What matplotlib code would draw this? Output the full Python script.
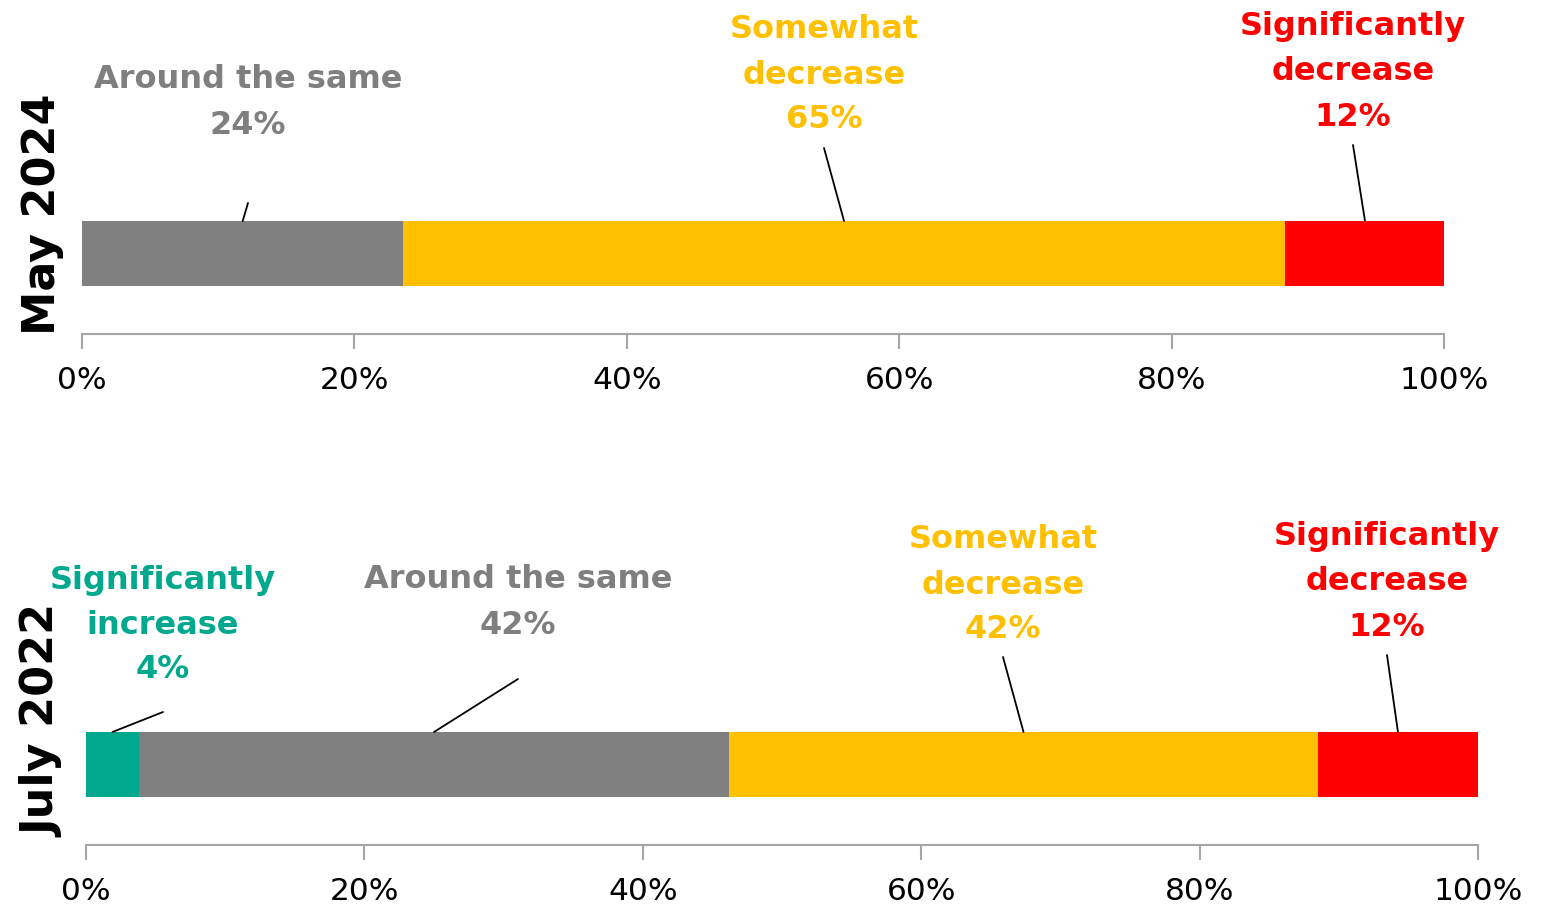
import matplotlib.pyplot as plt

# data
periods = ["May 2024", "July 2022"]
categories = [["Significantly", "increase"], ["Around the same"],
              ["Somewhat", "decrease"], ["Significantly", "decrease"]]
colors = ["#00A88E", "#808080", "#FFC000", "#FF0000"]
text_colors = ["#00A88E", "#7F7F7F", "#FFC000", "#FF0000"]
may_2024 = [0.0, 23.6, 64.7, 11.8]
july_2022 = [3.8, 42.4, 42.3, 11.5]
may_2024_labels = [None, "24%", "65%", "12%"]
july_2022_labels = ["4%", "42%", "42%", "12%"]
ticks = [0, 20, 40, 60, 80, 100]

W, H = 1547, 909
LINE_GAP = 45  # px between label lines
fig = plt.figure(figsize=(W / 100, H / 100), dpi=100)
plt.rcParams['font.family'] = ['DejaVu Sans']


def px(x, y):
    # top-left pixel -> figure fraction
    return x / W, 1 - y / H


def draw_panel(rect, values, pct_labels, label_pos, line_pos, title, title_y):
    ax = fig.add_axes(rect)
    left = 0
    bar_y, bar_h = 0.491, 0.396
    for i, v in enumerate(values):
        if v > 0:
            ax.barh(bar_y, v, left=left, height=bar_h, color=colors[i], edgecolor='none')
        if pct_labels[i] is not None:
            lines = categories[i] + [pct_labels[i]]
            cx, top_y = label_pos[i]
            # one text per line so the block keeps a tight box
            for k, line in enumerate(lines):
                tx, ty = px(cx, top_y + k * LINE_GAP)
                fig.text(tx, ty, line, ha='center', va='center',
                         color=text_colors[i], fontsize=23, fontweight='bold')
            lx, ly = line_pos[i]
            ax.annotate("", xy=(left + v / 2, bar_y + bar_h / 2), xycoords='data',
                        xytext=(lx, H - ly), textcoords='figure pixels',
                        arrowprops=dict(arrowstyle='-', color='black', lw=1.3,
                                        shrinkA=0, shrinkB=0))
        left += v
    ax.set_xlim(0, 100)
    ax.set_ylim(0, 1)
    ax.set_xticks(ticks)
    ax.set_xticklabels([f"{t}%" for t in ticks])
    ax.tick_params(axis='x', length=11, width=1.5, color='#A6A6A6', labelsize=22.5, pad=12)
    ax.set_yticks([])
    for s in ['top', 'right', 'left']:
        ax.spines[s].set_visible(False)
    ax.spines['bottom'].set_color('#A6A6A6')
    ax.spines['bottom'].set_linewidth(1.5)
    tx, ty = px(43, title_y)
    fig.text(tx, ty, title, rotation=90, ha='center', va='center',
             fontsize=32, fontweight='bold', color='black')
    return ax


# top panel: axes bottom at y=334 px, top at 170 px
x0, y0 = px(82, 334)
draw_panel([x0, y0, (1444 - 82) / W, 164 / H], may_2024, may_2024_labels,
           [None, (248, 80), (824, 30), (1353, 27)],
           [None, (248, 203), (824, 148), (1353, 145)],
           periods[0], 214)

# bottom panel: axes bottom at y=845 px
x0, y0 = px(86, 845)
draw_panel([x0, y0, (1478 - 86) / W, 164 / H], july_2022, july_2022_labels,
           [(163, 580), (518, 580), (1003, 540), (1387, 537)],
           [(163, 712), (518, 679), (1003, 657), (1387, 655)],
           periods[1], 721)

fig.savefig("out.png", dpi=100)
